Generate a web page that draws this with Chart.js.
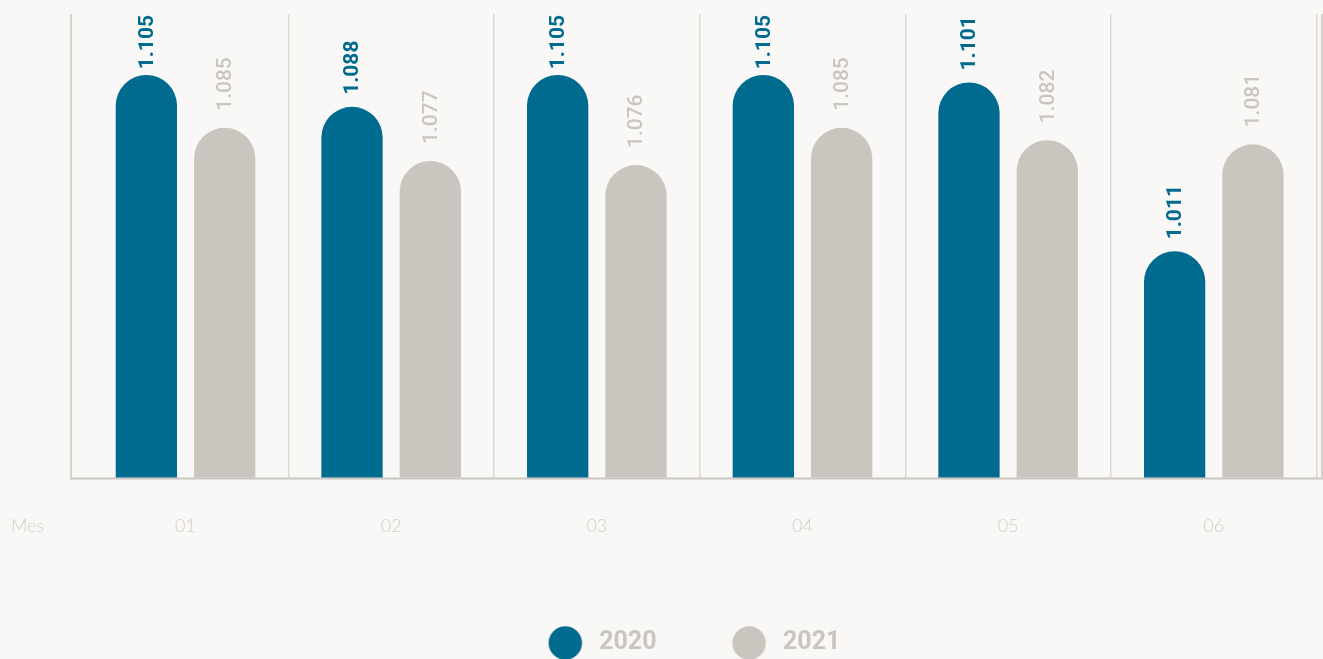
<!DOCTYPE html>
<html>
<head>
<meta charset="utf-8">
<script src="https://cdn.jsdelivr.net/npm/chart.js@4.4.1/dist/chart.umd.min.js"></script>
<style>
  html, body { margin: 0; padding: 0; background: #f9f8f6; }
  #wrap { width: 1323px; height: 659px; position: relative; }
</style>
</head>
<body>
<div id="wrap"><canvas id="c"></canvas></div>
<script>
const categories = ['01', '02', '03', '04', '05', '06'];
const seriesNames = ['2020', '2021'];
const values2020 = [1.105, 1.088, 1.105, 1.105, 1.101, 1.011];
const values2021 = [1.085, 1.077, 1.076, 1.085, 1.082, 1.081];
const labels2020 = ['1.105', '1.088', '1.105', '1.105', '1.101', '1.011'];
const labels2021 = ['1.085', '1.077', '1.076', '1.085', '1.082', '1.081'];
const axisTitle = 'Mes';

const TEAL = '#006b8f';
const GREY = '#c9c5bf';
const GRID = '#dcd9d5';
const AXIS = '#cac6c1';

function legendDot(color) {
  const c = document.createElement('canvas');
  c.width = 96; c.height = 36;
  const g = c.getContext('2d');
  g.fillStyle = color;
  g.beginPath();
  g.arc(78.6, 18, 16.7, 0, Math.PI * 2);
  g.fill();
  return c;
}

const framePlugin = {
  id: 'frame',
  beforeDatasetsDraw(chart) {
    const { ctx, chartArea } = chart;
    ctx.save();
    ctx.strokeStyle = AXIS;
    ctx.lineWidth = 1.5;
    ctx.beginPath();
    ctx.moveTo(71, chartArea.top);
    ctx.lineTo(71, chartArea.bottom + 1.5);
    ctx.moveTo(1322, chartArea.top);
    ctx.lineTo(1322, chartArea.bottom);
    ctx.stroke();
    ctx.lineWidth = 2;
    ctx.beginPath();
    ctx.moveTo(70.25, chartArea.bottom + 1);
    ctx.lineTo(1323, chartArea.bottom + 1);
    ctx.stroke();
    ctx.fillStyle = '#d2cec9';
    ctx.font = '300 18px Lato';
    ctx.textAlign = 'left';
    ctx.textBaseline = 'middle';
    ctx.fillText(axisTitle, 11, 526);
    ctx.restore();
  },
  afterDatasetsDraw(chart) {
    const { ctx } = chart;
    const sets = [
      { labels: labels2020, color: TEAL, font: 'bold 21px Roboto', offset: 12 },
      { labels: labels2021, color: GREY, font: '500 21px Roboto', offset: 17 }
    ];
    sets.forEach((s, di) => {
      const meta = chart.getDatasetMeta(di);
      meta.data.forEach((el, i) => {
        ctx.save();
        ctx.font = s.font;
        ctx.fillStyle = s.color;
        const txt = s.labels[i];
        const w = ctx.measureText(txt).width;
        let y = el.y - s.offset;
        if (y - w < 15) y = 15 + w;
        ctx.translate(el.x, y);
        ctx.rotate(-Math.PI / 2);
        ctx.textAlign = 'left';
        ctx.textBaseline = 'middle';
        ctx.fillText(txt, 0, 1);
        ctx.restore();
      });
    });
  }
};

new Chart(document.getElementById('c'), {
  type: 'bar',
  data: {
    labels: categories,
    datasets: [
      {
        label: seriesNames[0],
        data: values2020,
        backgroundColor: TEAL,
        yAxisID: 'y',
        pointStyle: legendDot(TEAL),
        borderSkipped: false,
        borderRadius: { topLeft: 40, topRight: 40, bottomLeft: 0, bottomRight: 0 }
      },
      {
        label: seriesNames[1],
        data: values2021,
        backgroundColor: GREY,
        yAxisID: 'y1',
        pointStyle: legendDot(GREY),
        borderSkipped: false,
        borderRadius: { topLeft: 40, topRight: 40, bottomLeft: 0, bottomRight: 0 }
      }
    ]
  },
  options: {
    responsive: true,
    maintainAspectRatio: false,
    animation: false,
    categoryPercentage: 0.7615,
    barPercentage: 0.783,
    layout: { padding: { left: 6.4, right: 6.4, top: 14, bottom: -6.5 } },
    plugins: {
      tooltip: { enabled: false },
      legend: {
        position: 'bottom',
        labels: {
          usePointStyle: true,
          pointStyleWidth: 104,
          padding: 10,
          color: GREY,
          font: { family: 'Roboto', weight: 'bold', size: 25 }
        }
      }
    },
    scales: {
      x: {
        offset: true,
        border: { display: false },
        grid: {
          offset: true,
          drawTicks: false,
          lineWidth: 1.5,
          color: (c) => (c.index === 0 || c.index >= categories.length) ? 'rgba(0,0,0,0)' : GRID
        },
        ticks: {
          padding: 38,
          color: '#d2cec9',
          font: { family: 'Lato', weight: '300', size: 18 }
        },
        afterFit(scale) { scale.height = 143; }
      },
      y: {
        display: true,
        position: 'left',
        min: 0.8904, max: 1.1375,
        border: { display: false },
        grid: { display: false, drawTicks: false },
        ticks: { display: false },
        afterFit(scale) { scale.width = 76.3; }
      },
      y1: { display: false, min: 1.0005, max: 1.1125 }
    }
  },
  plugins: [framePlugin]
});
</script>
</body>
</html>
